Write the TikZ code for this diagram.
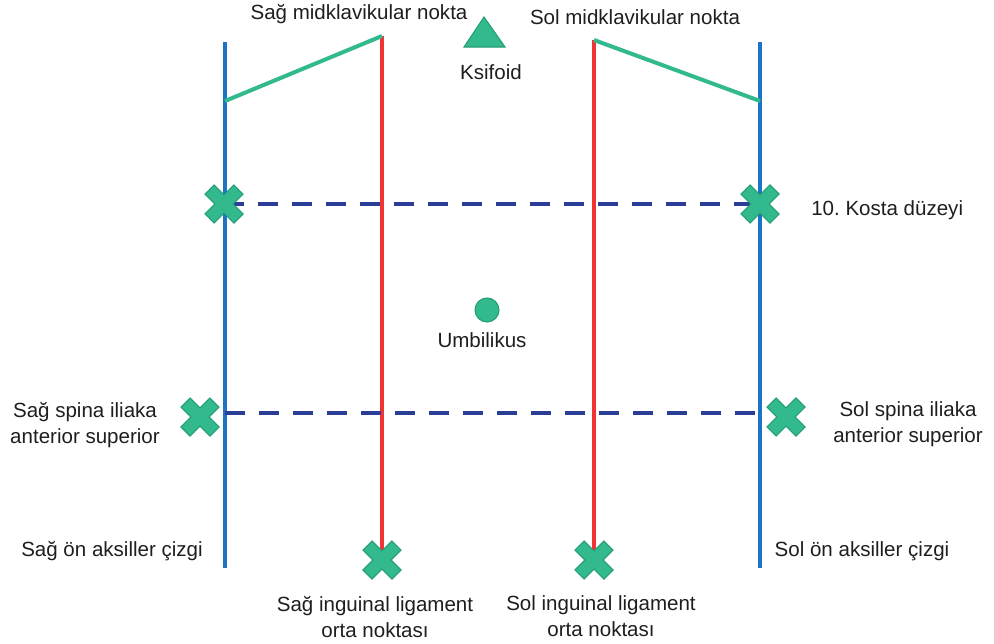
\documentclass[tikz,border=0pt]{standalone}
\usepackage{fontspec}
\setmainfont{Liberation Sans}
\frenchspacing
\definecolor{axblue}{RGB}{28,117,196}
\definecolor{mcred}{RGB}{240,52,52}
\definecolor{mgreen}{RGB}{50,185,142}
\definecolor{mgreendark}{RGB}{36,158,116}
\definecolor{dblue}{RGB}{42,62,152}
\definecolor{txt}{RGB}{30,30,30}
\tikzset{
  xmark/.pic={\filldraw[fill=mgreen,draw=mgreendark,line width=0.8pt,rotate=45]
    (-6.5,-20.5)--(6.5,-20.5)--(6.5,-6.5)--(20.5,-6.5)--(20.5,6.5)--(6.5,6.5)--(6.5,20.5)
    --(-6.5,20.5)--(-6.5,6.5)--(-20.5,6.5)--(-20.5,-6.5)--(-6.5,-6.5)--cycle;},
  axline/.style={axblue,line width=3pt},
  mcline/.style={mcred,line width=3pt},
  clav/.style={mgreen,line width=3pt},
  level/.style={dblue,line width=3pt,dash pattern=on 15pt off 10.5pt},
  lbl/.style={text=txt,font=\fontsize{15.4}{19.5}\selectfont,inner sep=0pt,align=center},
  pt/.style={inner sep=0pt,minimum size=0pt},
}
\begin{document}
\begin{tikzpicture}[x=0.75pt,y=-0.75pt]
\useasboundingbox (0,0) rectangle (994,643);
% coordinates
\coordinate (LAtop) at (225,42);
\coordinate (LAbot) at (225,568);
\coordinate (RAtop) at (760,42);
\coordinate (RAbot) at (760,568);
\coordinate (LMtop) at (382,36);
\coordinate (RMtop) at (594,40);
\coordinate (LAcl) at (225,101);
\coordinate (RAcl) at (760,101);
\node[pt] (LInq) at (382,560) {};
\node[pt] (RInq) at (594,560) {};
\node[pt] (Lcost) at (224,204) {};
\node[pt] (Rcost) at (760,204) {};
\coordinate (Lspin) at (225,413);
\coordinate (Rspin) at (760,413);
\node[pt] (LASIS) at (200,417) {};
\node[pt] (RASIS) at (786,417) {};
% axillary lines
\draw[axline] (LAtop) -- (LAbot);
\draw[axline] (RAtop) -- (RAbot);
% midclavicular lines
\draw[mcline] (LMtop) -- (LInq);
\draw[mcline] (RMtop) -- (RInq);
% clavicle lines
\draw[clav] (LAcl) -- (LMtop);
\draw[clav] (RMtop) -- (RAcl);
% levels
\draw[level] (Lcost) -- (Rcost);
\draw[level] (Lspin) -- (Rspin);
% markers
\foreach \n in {LInq,RInq,Lcost,Rcost,LASIS,RASIS} \pic at (\n) {xmark};
\filldraw[fill=mgreen,draw=mgreendark,line width=0.8pt] (484,17) -- (505,47) -- (464,47) -- cycle;
\node[pt] (xiph) at (484,37) {};
\node[circle,fill=mgreen,draw=mgreendark,line width=0.8pt,minimum size=18pt,inner sep=0pt] (umb) at (487,310) {};
% labels
\node[lbl] at (359,14) {Sağ midklavikular nokta};
\node[lbl] at (635,17) {Sol midklavikular nokta};
\node[lbl] at (491,72) {Ksifoid};
\node[lbl] at (482,340) {Umbilikus};
\node[lbl,anchor=west] at (811,210) {10. Kosta düzeyi};
\node[lbl] at (85,425) {Sağ spina iliaka\\anterior superior};
\node[lbl] at (908,424) {Sol spina iliaka\\anterior superior};
\node[lbl] at (112,551) {Sağ ön aksiller çizgi};
\node[lbl] at (862,551) {Sol ön aksiller çizgi};
\node[lbl] at (375,617) {Sağ inguinal ligament\\orta noktası};
\node[lbl] at (601,616) {Sol inguinal ligament\\orta noktası};
\end{tikzpicture}
\end{document}
